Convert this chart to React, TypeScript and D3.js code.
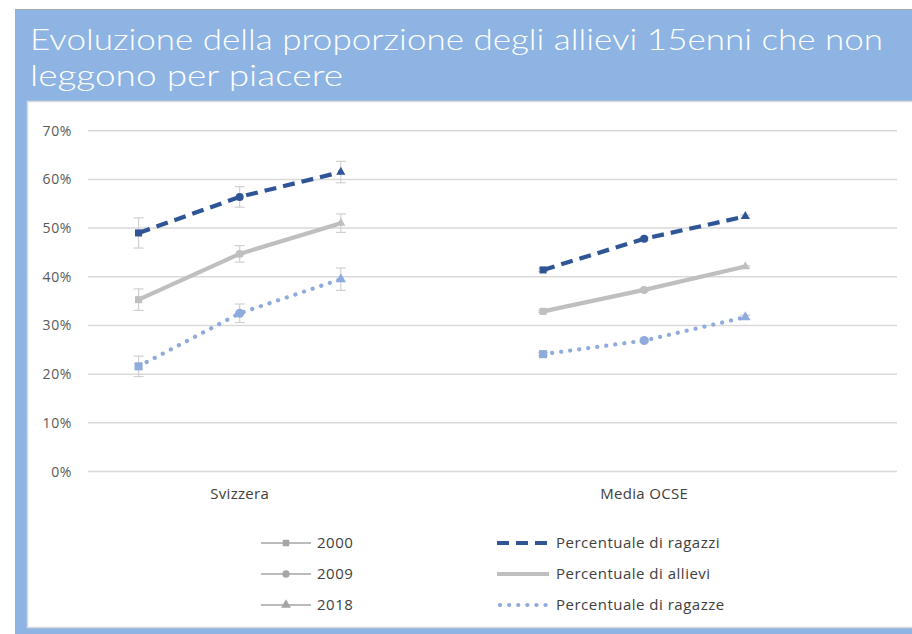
import React, { useRef, useEffect } from 'react';
import * as d3 from 'd3';

// dati (percentuali)
const categories = ['Svizzera', 'Media OCSE'];
const years = ['2000', '2009', '2018'];
const yTicks = [0, 10, 20, 30, 40, 50, 60, 70];

const ragazzi = [49.0, 56.4, 61.5, 41.4, 47.8, 52.4];
const ragazziErr = [3.1, 2.1, 2.2, 0.3, 0.3, 0.3];
const allievi = [35.3, 44.7, 51.0, 32.9, 37.3, 42.1];
const allieviErr = [2.2, 1.7, 1.9, 0.2, 0.2, 0.2];
const ragazze = [21.6, 32.5, 39.5, 24.1, 26.9, 31.7];
const ragazzeErr = [2.1, 1.9, 2.3, 0.3, 0.3, 0.4];

const seriesNames = ['Percentuale di ragazzi', 'Percentuale di allievi', 'Percentuale di ragazze'];

function App() {
  const canvas = useRef<HTMLDivElement>(null);

  useEffect(() => {
    const W = 912, H = 634;
    const left = 88, right = 897, top = 130.7, bottom = 471.5;

    d3.select(canvas.current).select('svg').remove();
    const svg = d3.select(canvas.current)
      .append('svg')
      .attr('width', W)
      .attr('height', H)
      .style('position', 'fixed')
      .style('left', '0px')
      .style('top', '0px')
      .style('font-family', '"Open Sans", "Liberation Sans", Arial, sans-serif');

    // cornice
    svg.append('rect').attr('x', 15.5).attr('y', 9.5).attr('width', W).attr('height', H)
      .attr('fill', '#8EB4E3').attr('stroke', '#ABABAB').attr('stroke-width', 1);
    svg.append('rect').attr('x', 27.5).attr('y', 101.5).attr('width', W).attr('height', 526)
      .attr('fill', '#ffffff').attr('stroke', '#D9D9D9').attr('stroke-width', 1.5);

    // titolo
    const title = svg.append('text')
      .attr('fill', '#ffffff')
      .style('font-family', '"Century Gothic", Lato, "DejaVu Sans", sans-serif')
      .style('font-size', '30px')
      .style('font-weight', 300);
    title.append('tspan').attr('x', 30).attr('y', 50)
      .attr('textLength', 853).attr('lengthAdjust', 'spacingAndGlyphs')
      .text('Evoluzione della proporzione degli allievi 15enni che non');
    title.append('tspan').attr('x', 30).attr('y', 86)
      .attr('textLength', 313).attr('lengthAdjust', 'spacingAndGlyphs')
      .text('leggono per piacere');

    // slot: 3 anni per categoria, uno vuoto in mezzo e uno alla fine
    const slots: string[] = [];
    categories.forEach((c) => {
      years.forEach((yr) => slots.push(c + '|' + yr));
      slots.push(c + '|gap');
    });
    const x = d3.scaleBand().domain(slots).range([left, right]);
    const xc = (k: string) => (x(k) as number) + x.bandwidth() / 2;
    const y = d3.scaleLinear().domain([0, 70]).range([bottom, top]);

    // griglia + etichette asse y
    const g = svg.append('g');
    g.selectAll('line.grid').data(yTicks).enter().append('line')
      .attr('x1', left).attr('x2', right)
      .attr('y1', (d) => y(d)).attr('y2', (d) => y(d))
      .attr('stroke', '#D9D9D9').attr('stroke-width', 1.5);
    g.selectAll('text.tick').data(yTicks).enter().append('text')
      .attr('x', 72).attr('y', (d) => y(d) + 5)
      .attr('text-anchor', 'end')
      .attr('fill', '#595959')
      .style('font-size', '14px')
      .style('letter-spacing', '0.6px')
      .text((d) => d + '%');

    // etichette categorie
    g.selectAll('text.cat').data(categories).enter().append('text')
      .attr('x', (c) => xc(c + '|2009'))
      .attr('y', 499)
      .attr('text-anchor', 'middle')
      .attr('fill', '#404040')
      .style('font-size', '15px')
      .style('letter-spacing', '0.3px')
      .text((c) => c);

    const series = [
      { name: seriesNames[0], values: ragazzi, err: ragazziErr, color: '#2F5597', dash: '12,7', cap: 'butt', ms: 1 },
      { name: seriesNames[1], values: allievi, err: allieviErr, color: '#BFBFBF', dash: null, cap: 'butt', ms: 1 },
      { name: seriesNames[2], values: ragazze, err: ragazzeErr, color: '#8FAADC', dash: '0.1,9', cap: 'round', ms: 1.3 },
    ];

    series.forEach((s) => {
      categories.forEach((c, ci) => {
        const pts = years.map((yr, yi) => ({
          k: c + '|' + yr, yr, v: s.values[ci * 3 + yi], e: s.err[ci * 3 + yi],
        }));
        // barre di errore
        const eb = svg.append('g').attr('stroke', '#D0D0D0').attr('stroke-width', 1.2);
        pts.forEach((p) => {
          const cx = xc(p.k);
          eb.append('line').attr('x1', cx).attr('x2', cx).attr('y1', y(p.v - p.e)).attr('y2', y(p.v + p.e));
          eb.append('line').attr('x1', cx - 5).attr('x2', cx + 5).attr('y1', y(p.v - p.e)).attr('y2', y(p.v - p.e));
          eb.append('line').attr('x1', cx - 5).attr('x2', cx + 5).attr('y1', y(p.v + p.e)).attr('y2', y(p.v + p.e));
        });
        const path = d3.line<any>().x((p) => xc(p.k)).y((p) => y(p.v));
        svg.append('path').datum(pts)
          .attr('d', path)
          .attr('fill', 'none')
          .attr('stroke', s.color)
          .attr('stroke-width', 4.2)
          .attr('stroke-linecap', s.cap)
          .attr('stroke-dasharray', s.dash);
        // marcatori per anno
        pts.forEach((p) => {
          const sym = p.yr === '2000' ? d3.symbolSquare : p.yr === '2009' ? d3.symbolCircle : d3.symbolTriangle;
          const sz = p.yr === '2018' ? 36 : 50;
          svg.append('path')
            .attr('d', d3.symbol().type(sym).size(sz * s.ms)())
            .attr('transform', `translate(${xc(p.k)},${y(p.v)})`)
            .attr('fill', s.color);
        });
      });
    });

    // legenda
    const leg = svg.append('g').style('font-size', '15px').style('letter-spacing', '0.5px').attr('fill', '#404040');
    const rowY = [543, 574, 605];
    const yearSyms = [d3.symbolSquare, d3.symbolCircle, d3.symbolTriangle];
    years.forEach((yr, i) => {
      leg.append('line').attr('x1', 261).attr('x2', 311).attr('y1', rowY[i]).attr('y2', rowY[i])
        .attr('stroke', '#A5A5A5').attr('stroke-width', 1.5);
      leg.append('path').attr('d', d3.symbol().type(yearSyms[i]).size(42)())
        .attr('transform', `translate(286,${rowY[i]})`).attr('fill', '#A5A5A5');
      leg.append('text').attr('x', 317).attr('y', rowY[i] + 5).text(yr);
    });
    series.forEach((s, i) => {
      leg.append('line').attr('x1', s.cap === 'round' ? 500 : 497).attr('x2', 549).attr('y1', rowY[i]).attr('y2', rowY[i])
        .attr('stroke', s.color).attr('stroke-width', 4.2)
        .attr('stroke-linecap', s.cap)
        .attr('stroke-dasharray', s.dash);
      leg.append('text').attr('x', 556).attr('y', rowY[i] + 5).text(s.name);
    });
  }, []);

  return <div ref={canvas}></div>;
}

export default App;
